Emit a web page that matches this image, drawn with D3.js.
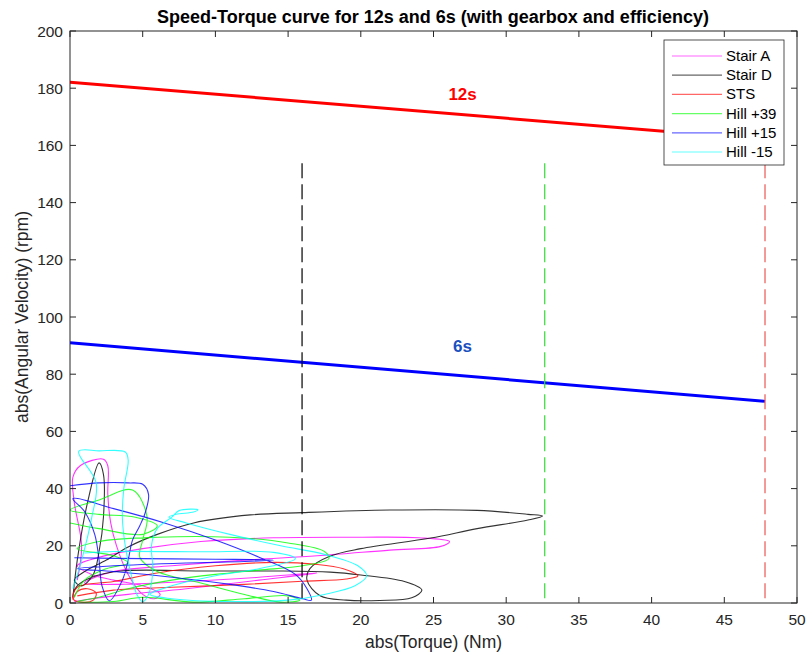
<!DOCTYPE html>
<html>
<head>
<meta charset="utf-8">
<script src="https://cdn.jsdelivr.net/npm/d3@7"></script>
<style>
  body { margin: 0; background: #fff; }
  svg { font-family: "Liberation Sans", Arial, sans-serif; }
</style>
</head>
<body>
<svg id="chart" width="808" height="656"></svg>
<script>
// torque (Nm) / speed (rpm) limits for the two motor configs
const line12s = [[0, 182.1], [47.8, 162]];
const line6s  = [[0, 91], [47.8, 70.5]];
const limitTorques = [15.96, 32.65, 47.8];
const limitColors  = ['#000000', '#33dd33', '#ee5555'];
const limitTop = 153.8;

// measured trajectories [torque, rpm]
const stairA = [[0.5,8],[0.8,20],[0.3,35],[0.2,44],[0.7,48],[2.3,50.3],[2.6,48],[2.6,38],[2.8,28],[3.2,20],[4,10],[5,3],[5.8,1.5],[6.2,3],[5,6],[3,8],[1.5,10],[0.5,13],[2,16],[5,19],[9,21.5],[14,22.8],[20,23],[24,22.8],[26.1,21.5],[25.5,19.8],[22,18.5],[17,16.5],[12,15],[7,13],[3,11],[1,7],[3,6.5],[8,7.5],[13,9],[17,10.5],[13,8],[8,5],[4,3],[1.5,1.5],[0.3,0.5]];
const stairD = [[0.2,2],[0.5,15],[1.2,35],[2,49],[2.3,45],[2.3,30],[2,18],[1.6,10],[0.8,6],[0.3,8],[1,11],[2.5,15],[4,19.6],[6,24],[8.5,28],[12.4,30.8],[16,31.6],[22,32.5],[28,32.4],[31.5,31],[32.5,30.4],[31.5,29],[28,26],[24.8,22.7],[20,19],[17.9,16.4],[16.5,12],[16.3,8],[17.2,2.5],[19,1],[21.3,0.9],[23.5,1.8],[24.2,4.5],[23,7.5],[20,9.8],[17.9,10.8],[14,11.2],[9,11.2],[3.5,11.2],[1.5,9],[0.5,6],[0.2,3]];
const sts = [[0.2,1],[0.5,4],[1.2,5],[1.8,3.5],[1.6,1],[0.8,0.3],[0.2,1.5],[0.5,5.5],[3,7.5],[6,10.5],[10,13],[14,14.2],[17,13.5],[18.8,12],[19.8,9.5],[19,8.4],[16,7.6],[12,6.5],[7,5.5],[3,4.5],[0.5,2.5]];
const hill39 = [[0.3,2],[1,8],[2.5,12],[4,14],[3,16.5],[0.5,19],[2,21.5],[6,23],[11,23],[15,21],[17.5,18],[17.8,15.5],[16,13],[13,11.5],[10,10],[7,8],[4,5],[2,2],[0.5,0.5],[3,0.5],[5,2],[8.5,0.3],[12,1.5],[15,2.5],[15.8,1],[14.5,0.3],[12,3],[9,7],[6,11],[4.8,16],[5,22],[5.3,30],[4.3,39.5],[2,36],[0,32.5],[2,31],[4.5,30],[6,27],[5,24],[2,26],[0,28]];
const hill15 = [[0,41],[2,42],[4,42],[5,41.5],[5.4,38],[5.2,32],[4.8,27],[4.3,22],[4,15],[3.6,8],[2.7,0.8],[2.2,6],[2,15],[1.7,24],[1,32],[0.2,36.5],[3,33],[6.5,28],[10,22],[13,16],[15.5,10],[16.3,5],[16.6,1],[16,1.5],[14,4],[11,6.5],[7,9],[3,11],[0.5,12],[3,13],[8,14],[12,14.5],[14,15],[10,15.3],[5,15.5],[0.3,15.8]];
const hillM15 = [[0.2,5],[0.8,15],[1.5,30],[1.8,42],[0.6,53],[2,53.2],[3.8,52.8],[4,50],[3.7,40],[3.6,30],[3.8,20],[4.2,10],[4.6,3],[5,0.5],[5.4,3],[5.7,12],[5.6,20],[6,26],[7,30],[7.5,32.3],[8.8,32.6],[8.5,31.8],[7.3,31],[6.8,30],[8,28],[11,24],[14.5,20],[17.5,17],[19.8,13],[20.4,9.5],[19.6,6],[17.5,3],[15,1],[11,0.5],[7,1.5],[5.5,3],[7,6],[10,9.5],[13,12],[15.5,15.5],[14,17.7],[9,17.9],[3,18],[1,17.5]];

const seriesNames  = ['Stair A', 'Stair D', 'STS', 'Hill +39', 'Hill +15', 'Hill -15'];
const seriesData   = [stairA, stairD, sts, hill39, hill15, hillM15];
const seriesColors = ['#ff00ff', '#000000', '#ff0000', '#00ff00', '#0000ff', '#00ffff'];

const xTicks = d3.range(0, 51, 5);
const yTicks = d3.range(0, 201, 20);

const m = { left: 70, right: 797, top: 31, bottom: 603 };
const svg = d3.select('#chart');

const x = d3.scaleLinear().domain([0, 50]).range([m.left, m.right]);
const y = d3.scaleLinear().domain([0, 200]).range([m.bottom, m.top]);

svg.append('clipPath').attr('id', 'plotclip')
  .append('rect').attr('x', m.left).attr('y', m.top)
  .attr('width', m.right - m.left).attr('height', m.bottom - m.top);

const plot = svg.append('g').attr('clip-path', 'url(#plotclip)');

const smooth = d3.line().x(d => x(d[0])).y(d => y(d[1])).curve(d3.curveCatmullRom.alpha(0.5));
const straight = d3.line().x(d => x(d[0])).y(d => y(d[1]));

seriesData.forEach((s, i) => {
  plot.append('path').datum(s)
    .attr('fill', 'none').attr('stroke', seriesColors[i])
    .attr('stroke-width', 1.1).attr('stroke-opacity', 0.8)
    .attr('d', smooth);
});

plot.append('path').datum(line12s)
  .attr('fill', 'none').attr('stroke', '#ff0000').attr('stroke-width', 3)
  .attr('d', straight);
plot.append('path').datum(line6s)
  .attr('fill', 'none').attr('stroke', '#0000ff').attr('stroke-width', 3)
  .attr('d', straight);

// dashes start from the top end, like the reference
limitTorques.forEach((t, i) => {
  plot.append('line')
    .attr('x1', x(t)).attr('x2', x(t))
    .attr('y1', y(limitTop)).attr('y2', y(0))
    .attr('stroke', limitColors[i]).attr('stroke-width', 1.2)
    .attr('stroke-dasharray', '15,6');
});

svg.append('text').attr('x', x(27)).attr('y', y(178) + 6)
  .attr('text-anchor', 'middle').attr('font-weight', 'bold').attr('font-size', 17)
  .attr('fill', '#ff0000').text('12s');
svg.append('text').attr('x', x(27)).attr('y', y(90) + 6)
  .attr('text-anchor', 'middle').attr('font-weight', 'bold').attr('font-size', 17)
  .attr('fill', '#1a4fc0').text('6s');

// axes, matlab style box with inward ticks
const axisColor = '#262626';
const tickLen = 6;
const axes = svg.append('g');
axes.append('rect').attr('x', m.left).attr('y', m.top)
  .attr('width', m.right - m.left).attr('height', m.bottom - m.top)
  .attr('fill', 'none').attr('stroke', axisColor).attr('stroke-width', 1);

xTicks.forEach(t => {
  axes.append('line').attr('x1', x(t)).attr('x2', x(t))
    .attr('y1', m.bottom).attr('y2', m.bottom - tickLen)
    .attr('stroke', axisColor);
  axes.append('line').attr('x1', x(t)).attr('x2', x(t))
    .attr('y1', m.top).attr('y2', m.top + tickLen)
    .attr('stroke', axisColor);
  axes.append('text').attr('x', x(t)).attr('y', m.bottom + 22)
    .attr('text-anchor', 'middle').attr('font-size', 15.5).attr('fill', axisColor)
    .text(t);
});
yTicks.forEach(t => {
  axes.append('line').attr('x1', m.left).attr('x2', m.left + tickLen)
    .attr('y1', y(t)).attr('y2', y(t)).attr('stroke', axisColor);
  axes.append('line').attr('x1', m.right).attr('x2', m.right - tickLen)
    .attr('y1', y(t)).attr('y2', y(t)).attr('stroke', axisColor);
  axes.append('text').attr('x', m.left - 7).attr('y', y(t) + 5.5)
    .attr('text-anchor', 'end').attr('font-size', 15.5).attr('fill', axisColor)
    .text(t);
});

svg.append('text').attr('x', (m.left + m.right) / 2).attr('y', 648)
  .attr('text-anchor', 'middle').attr('font-size', 17.5).attr('fill', axisColor)
  .text('abs(Torque) (Nm)');
svg.append('text')
  .attr('transform', `translate(28,${(m.top + m.bottom) / 2}) rotate(-90)`)
  .attr('text-anchor', 'middle').attr('font-size', 17.5).attr('fill', axisColor)
  .text('abs(Angular Velocity) (rpm)');
svg.append('text').attr('x', 433).attr('y', 23)
  .attr('text-anchor', 'middle').attr('font-size', 18).attr('font-weight', 'bold')
  .attr('fill', '#000').text('Speed-Torque curve for 12s and 6s (with gearbox and efficiency)');

// legend
const lg = svg.append('g').attr('transform', 'translate(664,40)');
lg.append('rect').attr('width', 120).attr('height', 125)
  .attr('fill', '#fff').attr('stroke', axisColor).attr('stroke-width', 0.8);
seriesNames.forEach((name, i) => {
  const yy = 16 + i * 19.2;
  lg.append('line').attr('x1', 8).attr('x2', 58).attr('y1', yy).attr('y2', yy)
    .attr('stroke', seriesColors[i]).attr('stroke-width', 1.2).attr('stroke-opacity', 0.6);
  lg.append('text').attr('x', 62).attr('y', yy + 5)
    .attr('font-size', 15).attr('fill', '#000').text(name);
});
</script>
</body>
</html>
